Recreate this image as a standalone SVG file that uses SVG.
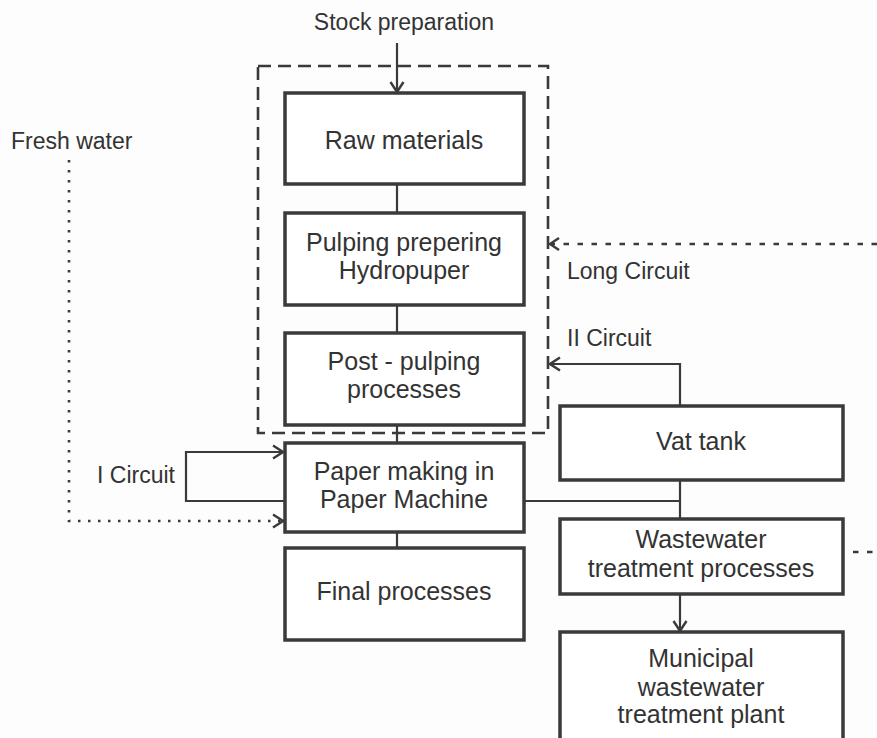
<svg xmlns="http://www.w3.org/2000/svg" width="877" height="738" viewBox="0 0 877 738">
<style>
.box{fill:#fff;stroke:#3a3a3a;stroke-width:3.5}
.t{font-family:"Liberation Sans",Arial,sans-serif;font-size:25px;fill:#333;text-anchor:middle}
.lbl{font-family:"Liberation Sans",Arial,sans-serif;font-size:23px;fill:#333}
.ln{fill:none;stroke:#3a3a3a;stroke-width:2.2}
.dot{fill:none;stroke:#3a3a3a;stroke-width:2.6;stroke-dasharray:2.5 7.5}
.dsh{fill:none;stroke:#3a3a3a;stroke-width:2.6;stroke-dasharray:5.5 8.5}
.bnd{fill:none;stroke:#3a3a3a;stroke-width:2.6;stroke-dasharray:13 7}
</style>
<defs>
<marker id="ah" viewBox="-12 -8 14 16" refX="0" refY="0" markerWidth="14" markerHeight="16" markerUnits="userSpaceOnUse" orient="auto">
<path d="M-10,-6.5 L0,0 L-10,6.5" fill="none" stroke="#3a3a3a" stroke-width="2.4"/>
</marker>
</defs>
<rect width="877" height="738" fill="#fdfdfd"/>
<g id="connectors">
<line class="ln" x1="397" y1="43" x2="397" y2="92" marker-end="url(#ah)"/>
<line class="ln" x1="397" y1="184" x2="397" y2="213"/>
<line class="ln" x1="397" y1="305" x2="397" y2="333"/>
<line class="ln" x1="397" y1="425" x2="397" y2="443"/>
<line class="ln" x1="397" y1="532" x2="397" y2="548"/>
<polyline class="ln" points="285,501 186,501 186,452 283,452" marker-end="url(#ah)"/>
<polyline class="dot" points="69,160 69,521 283,521" marker-end="url(#ah)"/>
<line class="ln" x1="524" y1="501" x2="680" y2="501"/>
<line class="ln" x1="680" y1="480" x2="680" y2="519"/>
<polyline class="ln" points="680,406 680,364 550,364" marker-end="url(#ah)"/>
<line class="dsh" x1="877" y1="244" x2="552" y2="244"/>
<polyline points="559,238 550,244 559,250" fill="none" stroke="#3a3a3a" stroke-width="2.4"/>
<line class="dsh" x1="853" y1="552" x2="877" y2="552"/>
<line class="ln" x1="680" y1="594" x2="680" y2="631" marker-end="url(#ah)"/>
<rect class="bnd" x="258" y="66" width="290" height="367"/>
</g>
<g id="n-raw"><rect class="box" x="285" y="93" width="239" height="91"/><text class="t" x="404" y="149">Raw materials</text></g>
<g id="n-pulping"><rect class="box" x="285" y="213" width="239" height="92"/><text class="t" x="404" y="251">Pulping prepering</text><text class="t" x="404" y="279">Hydropuper</text></g>
<g id="n-post"><rect class="box" x="285" y="333" width="239" height="92"/><text class="t" x="404" y="370">Post - pulping</text><text class="t" x="404" y="398">processes</text></g>
<g id="n-paper"><rect class="box" x="285" y="443" width="239" height="89"/><text class="t" x="404" y="480">Paper making in</text><text class="t" x="404" y="508">Paper Machine</text></g>
<g id="n-final"><rect class="box" x="285" y="548" width="239" height="92"/><text class="t" x="404" y="600">Final processes</text></g>
<g id="n-vat"><rect class="box" x="560" y="406" width="283" height="74"/><text class="t" x="701" y="450">Vat tank</text></g>
<g id="n-wwt"><rect class="box" x="560" y="519" width="283" height="75"/><text class="t" x="701" y="548">Wastewater</text><text class="t" x="701" y="577">treatment processes</text></g>
<g id="n-muni"><rect class="box" x="560" y="632" width="283" height="115"/><text class="t" x="701" y="667">Municipal</text><text class="t" x="701" y="696">wastewater</text><text class="t" x="701" y="723">treatment plant</text></g>
<g id="labels">
<text class="lbl" x="404" y="30" text-anchor="middle">Stock preparation</text>
<text class="lbl" x="11" y="149">Fresh water</text>
<text class="lbl" x="97" y="483">I Circuit</text>
<text class="lbl" x="567" y="279">Long Circuit</text>
<text class="lbl" x="567" y="346">II Circuit</text>
</g>
</svg>
